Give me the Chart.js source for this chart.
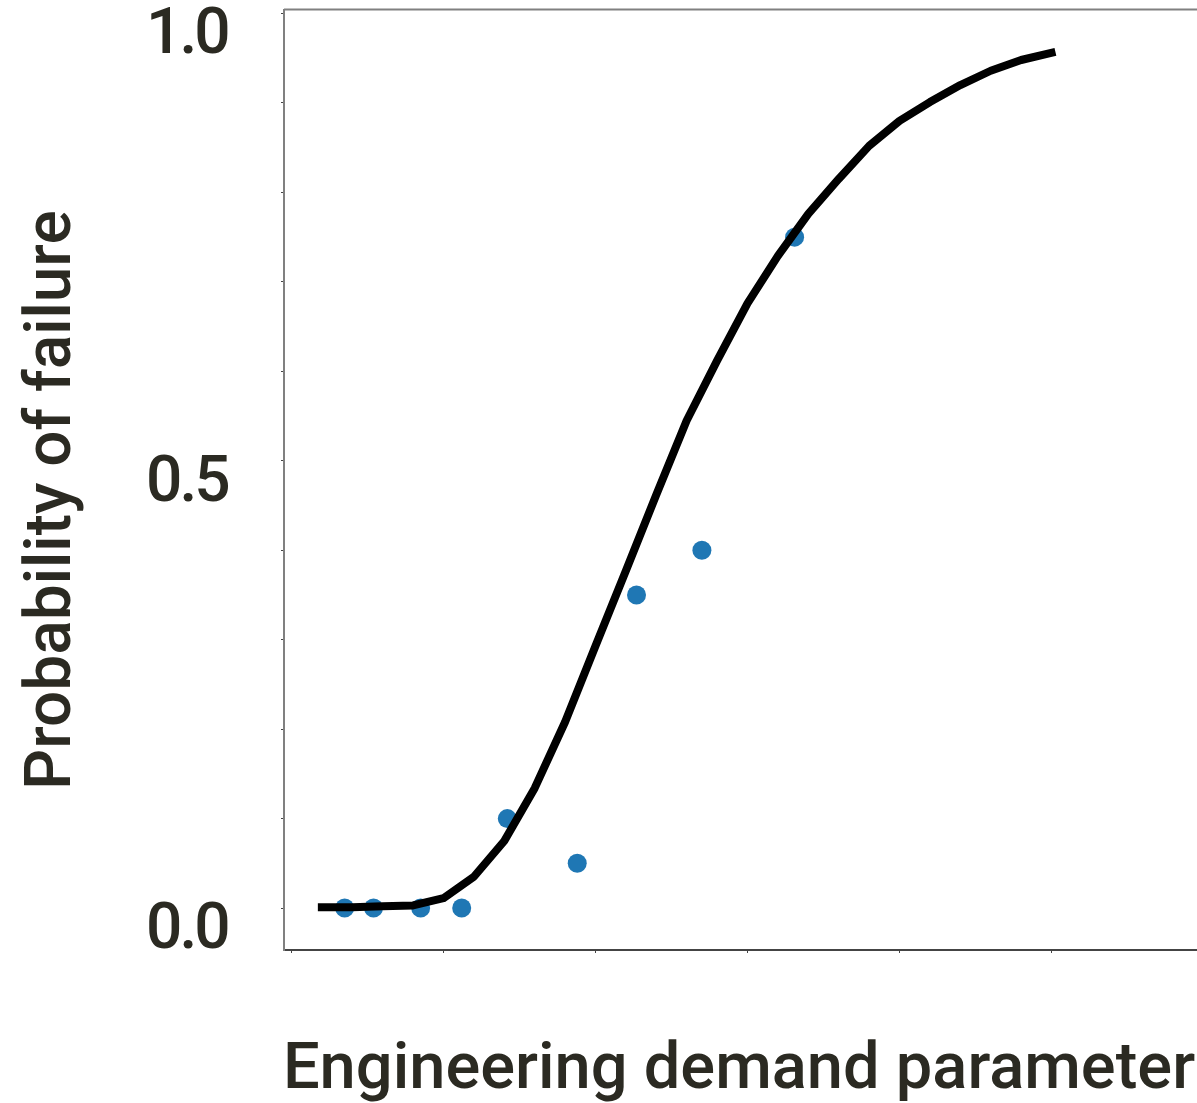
<!DOCTYPE html>
<html>
<head>
<meta charset="utf-8">
<title>Fragility curve</title>
<script src="https://cdn.jsdelivr.net/npm/chart.js@4.4.1/dist/chart.umd.min.js"></script>
<style>
  html, body { margin: 0; padding: 0; background: #fff; overflow: hidden; }
  #wrap { position: relative; width: 1210px; height: 1103px; }
</style>
</head>
<body>
<div id="wrap"><canvas id="chart" width="1210" height="1103"></canvas></div>
<script>
// fitted curve
const curveX = [0.2, 0.4, 0.6, 0.8, 1.0, 1.2, 1.4, 1.6, 1.8, 2.0, 2.2, 2.4, 2.6,
                2.8, 3.0, 3.2, 3.4, 3.6, 3.8, 4.0, 4.2, 4.4, 4.6, 4.8, 5.0];
const curveY = [0.001, 0.001, 0.002, 0.003, 0.011, 0.035, 0.075, 0.134, 0.208, 0.293,
                0.377, 0.462, 0.545, 0.612, 0.676, 0.729, 0.776, 0.815, 0.852, 0.880,
                0.901, 0.920, 0.936, 0.948, 0.956];

// observed fractions of failure
const obsX = [0.35, 0.54, 0.85, 1.12, 1.42, 1.88, 2.27, 2.70, 3.31];
const obsY = [0, 0, 0, 0, 0.10, 0.05, 0.35, 0.40, 0.75];

const xTicks = [0, 1, 2, 3, 4, 5];
const yTicks = [0, 0.1, 0.2, 0.3, 0.4, 0.5, 0.6, 0.7, 0.8, 0.9, 1.0];
const yLabelled = [0, 0.5, 1.0];

const xTitle = 'Engineering demand parameter';
const yTitle = 'Probability of failure';

const textColor = '#2b2a22';
const font = 'Roboto, "DejaVu Sans", sans-serif';

// axis titles + top frame line; tighter spacing for the tick numbers
const framePlugin = {
  id: 'frame',
  beforeDraw(chart) {
    chart.ctx.letterSpacing = '-3px';
  },
  beforeDatasetsDraw(chart) {
    chart.ctx.letterSpacing = '0px';
  },
  afterDraw(chart) {
    const { ctx, chartArea } = chart;
    ctx.save();
    ctx.letterSpacing = '0px';
    ctx.strokeStyle = '#808080';
    ctx.lineWidth = 2;
    ctx.beginPath();
    ctx.moveTo(chartArea.left, chartArea.top);
    ctx.lineTo(chartArea.right, chartArea.top);
    ctx.stroke();

    ctx.fillStyle = textColor;
    ctx.font = '500 65px ' + font;
    ctx.textAlign = 'center';
    ctx.textBaseline = 'alphabetic';
    ctx.fillText(xTitle, 739, 1088);

    ctx.font = '500 64px ' + font;
    ctx.translate(70, 500);
    ctx.rotate(-Math.PI / 2);
    ctx.fillText(yTitle, 0, 0);
    ctx.restore();
  }
};

new Chart(document.getElementById('chart'), {
  type: 'scatter',
  data: {
    datasets: [
      {
        type: 'line',
        data: curveX.map((x, i) => ({ x: x, y: curveY[i] })),
        borderColor: '#000',
        borderWidth: 8,
        borderCapStyle: 'square',
        borderJoinStyle: 'round',
        pointRadius: 0,
        tension: 0,
        fill: false
      },
      {
        data: obsX.map((x, i) => ({ x: x, y: obsY[i] })),
        backgroundColor: '#1f77b4',
        borderWidth: 0,
        pointRadius: 9.5,
        pointHoverRadius: 9.5
      }
    ]
  },
  options: {
    responsive: false,
    devicePixelRatio: 1,
    animation: false,
    layout: { padding: { left: 146, top: 8, right: 0, bottom: 0 } },
    plugins: { legend: { display: false }, tooltip: { enabled: false } },
    scales: {
      x: {
        type: 'linear',
        min: -0.049,
        max: 5.98,
        afterBuildTicks: s => { s.ticks = xTicks.map(v => ({ value: v })); },
        afterFit: s => { s.height = 153; s.paddingLeft = 0; s.paddingRight = 0; },
        ticks: { display: false },
        grid: { drawOnChartArea: false, drawTicks: true, tickLength: 3, color: '#444' },
        border: { color: '#444', width: 2 }
      },
      y: {
        type: 'linear',
        min: -0.046875,
        max: 1.004464,
        afterBuildTicks: s => { s.ticks = yTicks.map(v => ({ value: v })); },
        afterFit: s => { s.width = 138; s.paddingTop = 0; s.paddingBottom = 0; },
        ticks: {
          autoSkip: false,
          crossAlign: 'far',
          labelOffset: 24,
          color: textColor,
          font: { family: font, size: 64, weight: 500 },
          callback: v => yLabelled.some(l => Math.abs(l - v) < 1e-6) ? v.toFixed(1) : ''
        },
        grid: { drawOnChartArea: false, drawTicks: true, tickLength: 3, color: '#444' },
        border: { color: '#808080', width: 2 }
      }
    }
  },
  plugins: [framePlugin]
});
</script>
</body>
</html>
